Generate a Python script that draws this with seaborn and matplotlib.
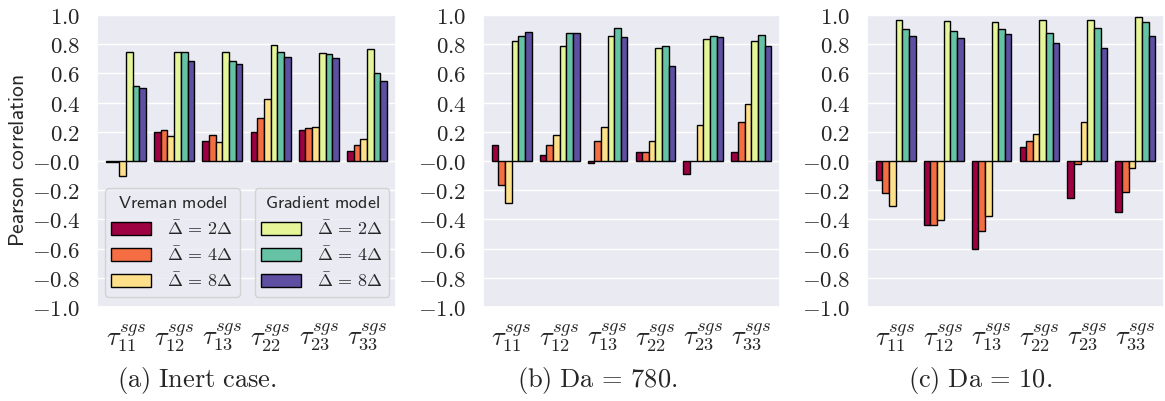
import numpy as np
import matplotlib
matplotlib.use('Agg')
import matplotlib.pyplot as plt
import matplotlib.patches as mpatches
import seaborn as sns
import pandas as pd

sns.set_theme(style='darkgrid')
plt.rcParams['mathtext.fontset'] = 'cm'

# components on the x axis
components = [r'$\tau_{11}^{sgs}$', r'$\tau_{12}^{sgs}$', r'$\tau_{13}^{sgs}$',
              r'$\tau_{22}^{sgs}$', r'$\tau_{23}^{sgs}$', r'$\tau_{33}^{sgs}$']
filters = ['2', '4', '8']
models = ['Vreman', 'Gradient']

# (a) inert case, one list per model/filter width
inert_v2 = [-0.005, 0.20, 0.14, 0.20, 0.215, 0.07]
inert_v4 = [-0.01, 0.213, 0.18, 0.295, 0.227, 0.112]
inert_v8 = [-0.10, 0.174, 0.133, 0.426, 0.236, 0.153]
inert_g2 = [0.744, 0.744, 0.746, 0.792, 0.739, 0.764]
inert_g4 = [0.513, 0.744, 0.682, 0.748, 0.730, 0.600]
inert_g8 = [0.503, 0.684, 0.666, 0.712, 0.703, 0.549]

# (b) Da = 780
da780_v2 = [0.108, 0.043, -0.016, 0.064, -0.092, 0.064]
da780_v4 = [-0.162, 0.112, 0.14, 0.059, 0.003, 0.27]
da780_v8 = [-0.29, 0.176, 0.236, 0.135, 0.249, 0.391]
da780_g2 = [0.824, 0.787, 0.854, 0.773, 0.835, 0.819]
da780_g4 = [0.856, 0.874, 0.908, 0.787, 0.858, 0.860]
da780_g8 = [0.883, 0.874, 0.847, 0.650, 0.847, 0.785]

# (c) Da = 10
da10_v2 = [-0.128, -0.435, -0.606, 0.098, -0.252, -0.352]
da10_v4 = [-0.217, -0.437, -0.48, 0.14, -0.023, -0.213]
da10_v8 = [-0.311, -0.403, -0.378, 0.185, 0.27, -0.046]
da10_g2 = [0.963, 0.956, 0.954, 0.963, 0.966, 0.984]
da10_g4 = [0.902, 0.892, 0.902, 0.879, 0.913, 0.954]
da10_g8 = [0.858, 0.840, 0.867, 0.805, 0.771, 0.854]

captions = [r'$\mathrm{(a)\ Inert\ case.}$',
            r'$\mathrm{(b)\ Da}\,=\,780.$',
            r'$\mathrm{(c)\ Da}\,=\,10.$']

palette = ['#9e0142', '#f46d43', '#fee08b', '#e6f598', '#66c2a5', '#5e4fa2']
hue_order = [f'{m} {f}' for m in models for f in filters]


def make_frame(series):
    rows = []
    for key, vals in zip(hue_order, series):
        for comp, v in zip(components, vals):
            rows.append({'component': comp, 'model': key, 'value': v})
    return pd.DataFrame(rows)


panels = [
    [inert_v2, inert_v4, inert_v8, inert_g2, inert_g4, inert_g8],
    [da780_v2, da780_v4, da780_v8, da780_g2, da780_g4, da780_g8],
    [da10_v2, da10_v4, da10_v8, da10_g2, da10_g4, da10_g8],
]

W, H = 1165, 401
fig = plt.figure(figsize=(W / 100, H / 100), dpi=100)
lefts = [97, 483, 867]
widths = [299, 297, 297]
cap_x = [197, 597, 980]

yticks = np.round(np.arange(-1.0, 1.01, 0.2), 1)

leg_kw = dict(loc='lower left', fontsize=13, title_fontsize=13,
              handlelength=2.2, handleheight=0.7, handletextpad=0.9,
              labelspacing=0.4, borderpad=0.35, borderaxespad=0,
              framealpha=0.8)

for i, series in enumerate(panels):
    ax = fig.add_axes([lefts[i] / W, (H - 307) / H, widths[i] / W, 292 / H])
    df = make_frame(series)
    sns.barplot(data=df, x='component', y='value', hue='model',
                hue_order=hue_order, palette=palette, saturation=1,
                edgecolor='black', linewidth=1.0, width=0.83,
                legend=False, ax=ax, zorder=3)
    ax.set_xlim(-0.6, 5.6)
    ax.set_ylim(-1.0, 1.0)
    ax.set_yticks(yticks)
    ax.set_yticklabels([f'${v:.1f}$' for v in yticks], fontsize=16.5)
    ax.tick_params(axis='x', labelsize=19, pad=5)
    ax.tick_params(axis='y', pad=6)
    ax.set_xlabel('')
    ax.set_ylabel('')
    fig.text(cap_x[i] / W, 1 - 381 / H, captions[i], fontsize=19,
             ha='center', va='center')

    if i == 0:
        ax.set_ylabel(r'$\mathsf{Pearson\ correlation}$', fontsize=15.5)
        ax.yaxis.set_label_coords(-0.23, 0.5)
        handles = [mpatches.Patch(facecolor=c, edgecolor='black', linewidth=1.0)
                   for c in palette]
        labels = [rf'$\bar{{\Delta}}\,=\,{f}\Delta$' for f in filters]
        leg1 = ax.legend(handles[:3], labels, title=r'$\mathsf{Vreman\ model}$',
                         bbox_to_anchor=(0.027, 0.034), **leg_kw)
        ax.add_artist(leg1)
        ax.legend(handles[3:], labels, title=r'$\mathsf{Gradient\ model}$',
                  bbox_to_anchor=(0.528, 0.034), **leg_kw)

plt.savefig('out.png', dpi=100)
